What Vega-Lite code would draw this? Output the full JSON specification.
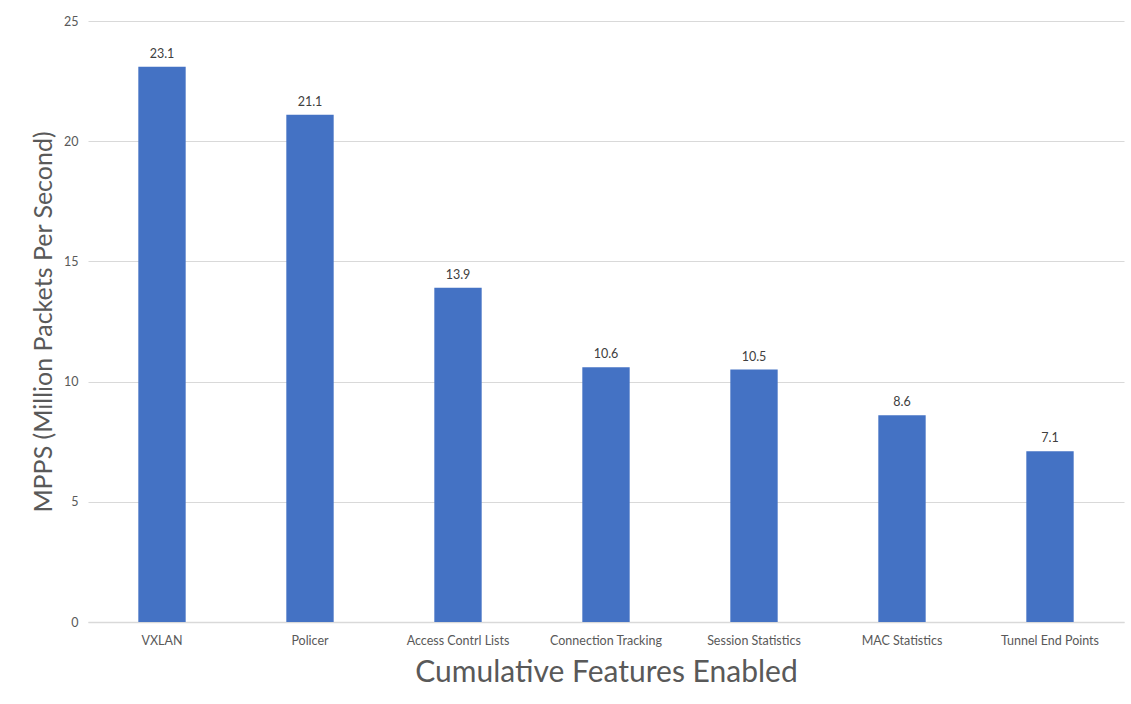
{
  "$schema": "https://vega.github.io/schema/vega-lite/v6.json",
  "width": 1036,
  "height": 601,
  "autosize": {"type": "none"},
  "padding": {"left": 88, "top": 21, "right": 7, "bottom": 82},
  "background": "white",
  "config": {
    "font": "Lato",
    "view": {"stroke": null},
    "axis": {"labelColor": "#595959", "titleColor": "#595959", "titleFontWeight": "normal", "labelFont": "Lato", "titleFont": "Lato"}
  },
  "data": {
    "values": [
      {"feature": "VXLAN", "mpps": 23.1},
      {"feature": "Policer", "mpps": 21.1},
      {"feature": "Access Contrl Lists", "mpps": 13.9},
      {"feature": "Connection Tracking", "mpps": 10.6},
      {"feature": "Session Statistics", "mpps": 10.5},
      {"feature": "MAC Statistics", "mpps": 8.6},
      {"feature": "Tunnel End Points", "mpps": 7.1}
    ]
  },
  "encoding": {
    "x": {
      "field": "feature",
      "type": "nominal",
      "sort": null,
      "scale": {"paddingInner": 0.68, "paddingOuter": 0.34},
      "axis": {
        "title": "Cumulative Features Enabled",
        "titleFontSize": 30,
        "titlePadding": 11,
        "labelAngle": 0,
        "labelFontSize": 12.5,
        "labelPadding": 12,
        "ticks": false,
        "domainColor": "#D9D9D9",
        "domainWidth": 1.5
      }
    },
    "y": {
      "field": "mpps",
      "type": "quantitative",
      "scale": {"domain": [0, 25]},
      "axis": {
        "title": "MPPS (Million Packets Per Second)",
        "titleFontSize": 25,
        "titlePadding": 7,
        "values": [0, 5, 10, 15, 20, 25],
        "labelFontSize": 12.5,
        "labelPadding": 10,
        "ticks": false,
        "domain": false,
        "gridColor": "#D9D9D9",
        "gridWidth": 1
      }
    }
  },
  "layer": [
    {"mark": {"type": "bar", "color": "#4472C4"}},
    {
      "mark": {"type": "text", "dy": -6, "fontSize": 12.5, "color": "#404040", "baseline": "bottom"},
      "encoding": {"text": {"field": "mpps", "type": "quantitative", "format": ".1f"}}
    }
  ]
}
